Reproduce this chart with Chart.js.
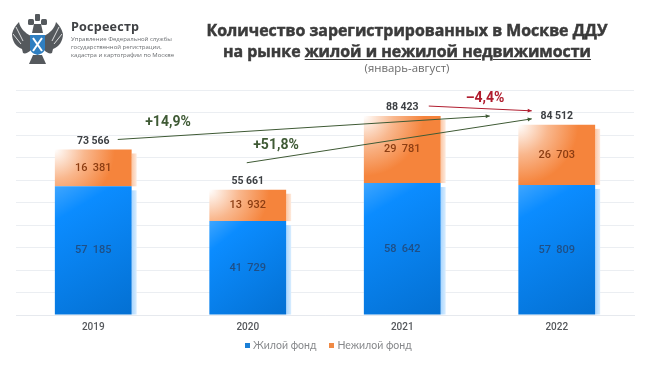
<!DOCTYPE html>
<html lang="ru">
<head>
<meta charset="utf-8">
<title>ДДУ в Москве</title>
<script src="https://cdn.jsdelivr.net/npm/chart.js@4"></script>
<style>
  html, body { margin: 0; padding: 0; background: #fff; }
  #wrap { position: relative; width: 650px; height: 367px; overflow: hidden; }
  #chart { position: absolute; left: 0; top: 0; }
  .abs { position: absolute; white-space: nowrap; }
  #brand { left: 71px; top: 18px; font: 700 12.6px/18px "Open Sans", sans-serif; color: #3f4144; letter-spacing: .2px; }
  #brandSub { left: 71px; top: 35px; font: 400 6px/8px "Open Sans", sans-serif; color: #6a6d70; }
  #title { left: 190px; width: 434px; top: 20px; text-align: center; font: 700 15.9px/21px "Open Sans", sans-serif; color: #3b3b3b; -webkit-text-stroke: .5px #3b3b3b; }
  #title u { text-underline-offset: 2px; text-decoration-thickness: 1px; }
  #period { left: 190px; width: 434px; top: 61px; text-align: center; font: 400 11.4px/14px "Open Sans", sans-serif; color: #6b6b6b; }
  #legend { left: 245px; top: 338px; font: 400 10.5px/14px Lato, sans-serif; color: #86888b; }
  #legend span { display: inline-block; margin-right: 13px; }
  #legend i { display: inline-block; width: 5px; height: 5px; margin-right: 3px; vertical-align: 1px; }
</style>
</head>
<body>
<div id="wrap">
  <canvas id="chart" width="650" height="367"></canvas>

  <!-- эмблема -->
  <svg class="abs" style="left:10px;top:11px" width="56" height="58" viewBox="0 0 56 58">
    <g fill="#55595d">
      <path d="M21 25 C15 22 10 17 9 11 C6 14 3 18 2 23 C2 30 6 36 12 38 L13 42 C15 43 18 42 21 39 Z"/>
      <path d="M34 25 C40 22 45 17 46 11 C49 14 52 18 53 23 C53 30 49 36 43 38 L42 42 C40 43 37 42 34 39 Z"/>
      <path d="M23 44 L32 44 L36 53 L19 53 Z"/>
      <rect x="25" y="3" width="5" height="7" rx="1"/>
      <rect x="18" y="8" width="6" height="6" rx="1.5"/>
      <rect x="31" y="8" width="6" height="6" rx="1.5"/>
      <path d="M24 13 L31 13 L33 22 L22 22 Z"/>
    </g>
    <g fill="none" stroke="#fff" stroke-width=".8">
      <path d="M6 16 L13 30 M3 23 L11 33 M49 16 L42 30 M52 23 L44 33"/>
    </g>
    <path d="M20 24 L35 24 L35 37 C35 41 31 43 27.5 44 C24 43 20 41 20 37 Z" fill="#2f7fc1"/>
    <path d="M23 27 L32 40 M32 27 L23 40" stroke="#fff" stroke-width="2"/>
  </svg>
  <div class="abs" id="brand">Росреестр</div>
  <div class="abs" id="brandSub">Управление Федеральной службы<br>государственной регистрации,<br>кадастра и картографии по Москве</div>

  <div class="abs" id="title">Количество зарегистрированных в Москве ДДУ<br>на рынке <u>жилой и нежилой недвижимости</u></div>
  <div class="abs" id="period">(январь-август)</div>
  <div class="abs" id="legend"></div>
</div>

<script>
const years = ['2019', '2020', '2021', '2022'];
const housing = [57185, 41729, 58642, 57809];
const nonHousing = [16381, 13932, 29781, 26703];
const totals = [73566, 55661, 88423, 84512];
const seriesNames = ['Жилой фонд', 'Нежилой фонд'];
const legendColors = ['#1a7fd6', '#f08a45'];

const GREEN = '#3f5a35';
const RED = '#b01c2e';

// Arrows are anchored to the bars they compare: the offsets are pixels from the total of each bar
const arrows = [
  { text: '+14,9%', from: 0, to: 2, color: GREEN, dx1: 24.5, dy1: -10, dx2: 87.5, dy2: 0, tx: 168, ty: 122 },
  { text: '+51,8%', from: 1, to: 3, color: GREEN, dx1: -1, dy1: -27, dx2: -25, dy2: -6, tx: 276, ty: 145 },
  { text: '–4,4%', from: 2, to: 3, color: RED, dx1: 26.5, dy1: -10, dx2: -25, dy2: -14, tx: 485, ty: 98 }
];

// "57185" -> "57 185"
function fmt(v, sep) {
  const s = String(v);
  return s.slice(0, -3) + sep + s.slice(-3);
}

function barBox(chart, dsIndex, i) {
  const x = chart.scales.x, y = chart.scales.y;
  const w = x.getPixelForValue(1) - x.getPixelForValue(0);
  const cx = x.getPixelForValue(i);
  const lo = dsIndex === 0 ? 0 : housing[i];
  const hi = dsIndex === 0 ? housing[i] : totals[i];
  return { left: cx - w * 0.249, right: cx + w * 0.249, top: y.getPixelForValue(hi), bottom: y.getPixelForValue(lo) };
}

function blueFill(ctx) {
  if (!ctx.chart.chartArea || ctx.dataIndex === undefined) return '#0a86f2';
  const b = barBox(ctx.chart, 0, ctx.dataIndex);
  const g = ctx.chart.ctx.createLinearGradient(b.left, b.top, b.right, b.bottom);
  g.addColorStop(0, '#3fa6ff');
  g.addColorStop(0.2, '#0b8cff');
  g.addColorStop(1, '#0470d2');
  return g;
}

function orangeFill(ctx) {
  if (!ctx.chart.chartArea || ctx.dataIndex === undefined) return '#f47f36';
  const b = barBox(ctx.chart, 1, ctx.dataIndex);
  const g = ctx.chart.ctx.createRadialGradient(b.left, b.top, 0, b.left, b.top, 60);
  g.addColorStop(0, '#ffffff');
  g.addColorStop(0.5, '#f9b78d');
  g.addColorStop(1, '#f5843c');
  return g;
}

// pale strip along the right side of each bar
const barShadow = {
  id: 'barShadow',
  beforeDatasetsDraw(chart) {
    const c = chart.ctx;
    chart.data.datasets.forEach((ds, d) => {
      chart.getDatasetMeta(d).data.forEach(bar => {
        const right = bar.x + bar.width / 2;
        const g = c.createLinearGradient(right, 0, right + 5, 0);
        g.addColorStop(0, d === 0 ? '#a9d6ff' : '#fbc7a5');
        g.addColorStop(1, d === 0 ? '#d8edff' : '#feeadd');
        c.fillStyle = g;
        c.fillRect(right, bar.y + 4, 5, bar.base - bar.y - 4);
      });
    });
  }
};

const labels = {
  id: 'labels',
  afterDatasetsDraw(chart) {
    const c = chart.ctx;
    const x = chart.scales.x, y = chart.scales.y;
    c.save();
    c.textAlign = 'center';
    c.textBaseline = 'middle';
    years.forEach((yr, i) => {
      const cx = x.getPixelForValue(i);
      c.font = '500 11px Roboto';
      c.fillStyle = '#1f4f86';
      c.fillText(fmt(housing[i], '  '), cx, y.getPixelForValue(housing[i] / 2));
      c.fillStyle = '#8c3d12';
      c.fillText(fmt(nonHousing[i], '  '), cx, y.getPixelForValue(housing[i] + nonHousing[i] / 2));
      c.font = '700 10.5px Roboto';
      c.fillStyle = '#3d4044';
      c.fillText(fmt(totals[i], ' '), cx, y.getPixelForValue(totals[i]) - 8.5);
    });
    arrows.forEach(a => {
      const x1 = x.getPixelForValue(a.from) + a.dx1, y1 = y.getPixelForValue(totals[a.from]) + a.dy1;
      const x2 = x.getPixelForValue(a.to) + a.dx2, y2 = y.getPixelForValue(totals[a.to]) + a.dy2;
      c.strokeStyle = a.color;
      c.fillStyle = a.color;
      c.lineWidth = 1;
      c.beginPath();
      c.moveTo(x1, y1);
      c.lineTo(x2, y2);
      c.stroke();
      const ang = Math.atan2(y2 - y1, x2 - x1);
      c.beginPath();
      c.moveTo(x2, y2);
      c.lineTo(x2 - 4.5 * Math.cos(ang - 0.45), y2 - 4.5 * Math.sin(ang - 0.45));
      c.lineTo(x2 - 4.5 * Math.cos(ang + 0.45), y2 - 4.5 * Math.sin(ang + 0.45));
      c.closePath();
      c.fill();
      c.font = '700 14px Roboto';
      c.fillText(a.text, a.tx, a.ty);
    });
    c.restore();
  }
};

document.getElementById('legend').innerHTML = seriesNames
  .map((n, i) => `<span><i style="background:${legendColors[i]}"></i>${n}</span>`)
  .join('');

new Chart(document.getElementById('chart'), {
  type: 'bar',
  data: {
    labels: years,
    datasets: [
      { label: seriesNames[0], data: housing, backgroundColor: blueFill, stack: 's', barPercentage: 0.497, categoryPercentage: 1 },
      { label: seriesNames[1], data: nonHousing, backgroundColor: orangeFill, stack: 's', barPercentage: 0.497, categoryPercentage: 1 }
    ]
  },
  plugins: [barShadow, labels],
  options: {
    responsive: false,
    animation: false,
    layout: { padding: { left: 16, right: 16, top: 90, bottom: 34 } },
    plugins: {
      tooltip: { enabled: false },
      legend: { display: false }
    },
    scales: {
      x: {
        stacked: true,
        grid: { display: false, tickLength: 6 },
        border: { color: '#e6e9ee' },
        ticks: { color: '#55585c', font: { family: 'Roboto', size: 10, weight: '500' }, padding: 0 }
      },
      y: {
        stacked: true,
        min: 0,
        max: 100000,
        ticks: { display: false, stepSize: 10000 },
        grid: { color: '#ebeef2', drawTicks: false },
        border: { display: false }
      }
    }
  }
});
</script>
</body>
</html>
